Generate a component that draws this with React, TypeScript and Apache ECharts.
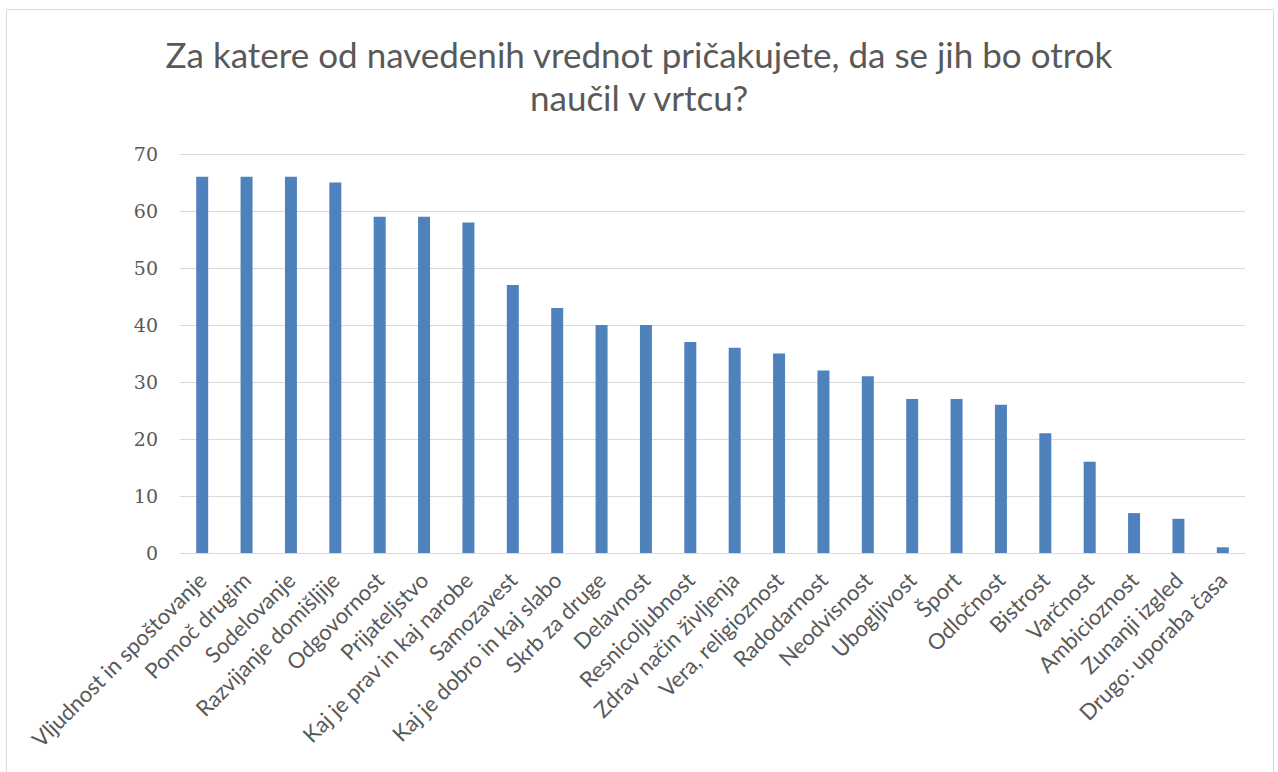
import React, { useEffect, useRef } from "react";
import * as echarts from "echarts";

const categories = [
  "Vljudnost in spoštovanje",
  "Pomoč drugim",
  "Sodelovanje",
  "Razvijanje domišljije",
  "Odgovornost",
  "Prijateljstvo",
  "Kaj je prav in kaj narobe",
  "Samozavest",
  "Kaj je dobro in kaj slabo",
  "Skrb za druge",
  "Delavnost",
  "Resnicoljubnost",
  "Zdrav način življenja",
  "Vera, religioznost",
  "Radodarnost",
  "Neodvisnost",
  "Ubogljivost",
  "Šport",
  "Odločnost",
  "Bistrost",
  "Varčnost",
  "Ambicioznost",
  "Zunanji izgled",
  "Drugo: uporaba časa",
];

const values = [66, 66, 66, 65, 59, 59, 58, 47, 43, 40, 40, 37, 36, 35, 32, 31, 27, 27, 26, 21, 16, 7, 6, 1];

const titleText = "Za katere od navedenih vrednot pričakujete, da se jih bo otrok\nnaučil v vrtcu?";

export default function App() {
  const ref = useRef<HTMLDivElement>(null);
  useEffect(() => {
    document.body.style.margin = "0";
    const chart = echarts.init(ref.current!, null, { renderer: "svg" });
    chart.setOption({
      animation: false,
      backgroundColor: "#ffffff",
      title: {
        text: titleText,
        left: "center",
        top: 27,
        textStyle: {
          fontFamily: "Lato",
          fontSize: 35,
          fontWeight: "normal",
          color: "#595959",
          lineHeight: 43,
        },
      },
      graphic: [
        {
          type: "rect",
          shape: { x: 6.5, y: 9.5, width: 1267, height: 800 },
          style: { fill: "none", stroke: "#d9d9d9", lineWidth: 1 },
          silent: true,
        },
      ],
      grid: { left: 180, right: 33, top: 154, bottom: 219, containLabel: false },
      xAxis: {
        type: "category",
        data: categories,
        axisLine: { show: true, lineStyle: { color: "#d9d9d9", width: 1 } },
        axisTick: { show: false },
        axisLabel: {
          interval: 0,
          rotate: 45,
          margin: 23,
          fontFamily: "Lato",
          fontSize: 22,
          color: "#595959",
        },
      },
      yAxis: {
        type: "value",
        min: 0,
        max: 70,
        interval: 10,
        axisLine: { show: false },
        axisTick: { show: false },
        splitLine: { lineStyle: { color: "#d9d9d9", width: 1 } },
        axisLabel: {
          margin: 22,
          fontFamily: "DejaVu Serif",
          fontSize: 19,
          color: "#595959",
        },
      },
      series: [
        {
          type: "bar",
          data: values,
          barWidth: 12,
          itemStyle: { color: "#4f81bd" },
        },
      ],
    });
    return () => chart.dispose();
  }, []);
  return <div ref={ref} style={{ width: 1278, height: 772 }} />;
}
